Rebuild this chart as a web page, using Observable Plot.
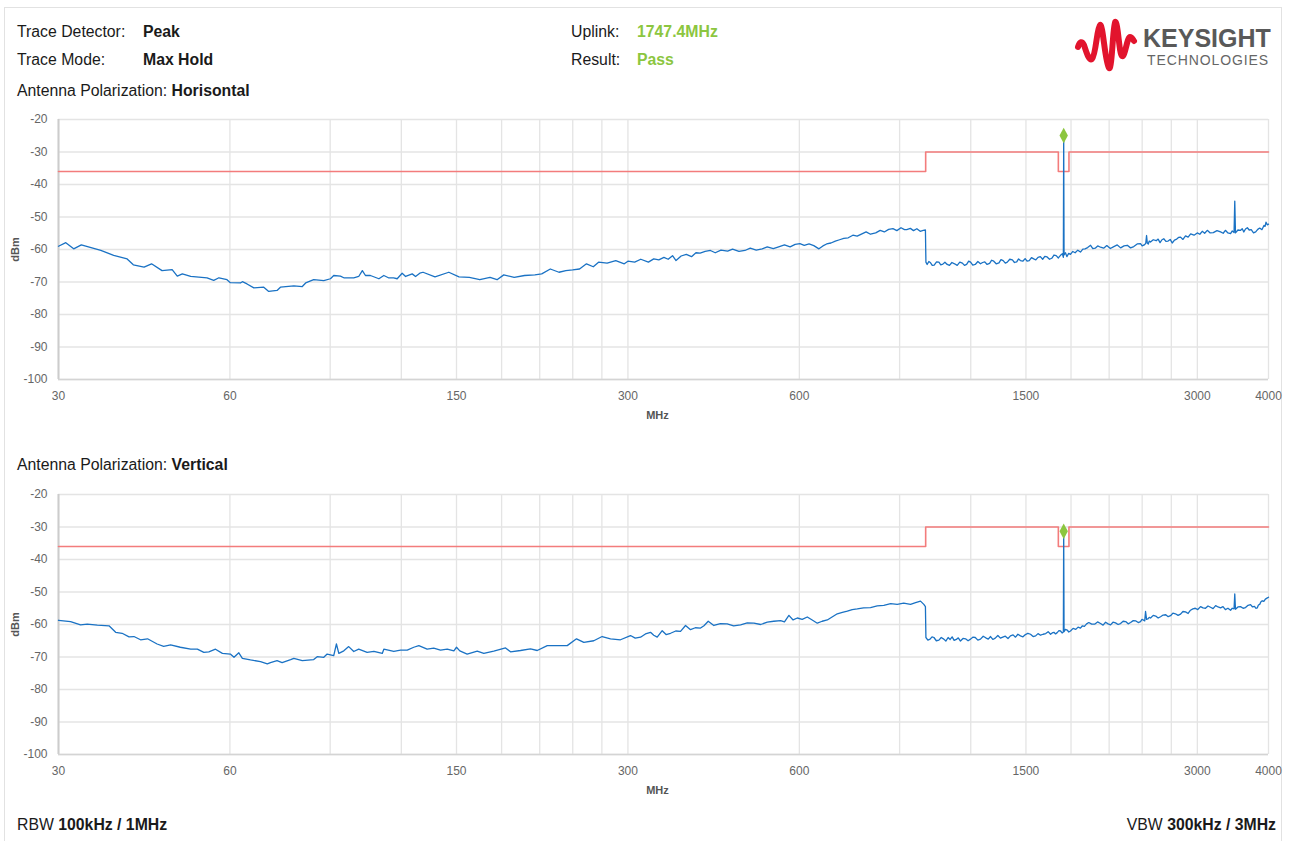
<!DOCTYPE html>
<html>
<head>
<meta charset="utf-8">
<script src="https://cdn.jsdelivr.net/npm/d3@7"></script>
<script src="https://cdn.jsdelivr.net/npm/@observablehq/plot@0.6"></script>
<style>
  html, body { margin: 0; padding: 0; background: #fff; }
  body { font-family: "Liberation Sans", Arial, sans-serif; color: #1a1a1a; }
  #page { position: relative; width: 1290px; height: 841px; overflow: hidden; }
  .frame { position: absolute; left: 4px; top: 7px; width: 1278px; height: 860px; border: 1px solid #e2e2e2; box-sizing: border-box; }
  .t { position: absolute; font-size: 15.8px; line-height: 18px; white-space: nowrap; }
  .b { font-weight: bold; }
  .ok { color: #8cc63f; font-weight: bold; }
  .chart { position: absolute; left: 0; }
  .chart svg g[aria-label="y-axis label"] text { font-weight: bold; font-size: 11px; fill: #555; }
  .chart svg g[aria-label="y-axis tick label"] text { fill: #666; }
</style>
</head>
<body>
<div id="page">
  <div class="frame"></div>

  <div class="t" style="left:17px;top:23px">Trace Detector:</div>
  <div class="t b" style="left:143px;top:23px">Peak</div>
  <div class="t" style="left:17px;top:51px">Trace Mode:</div>
  <div class="t b" style="left:143px;top:51px">Max Hold</div>

  <div class="t" style="left:571px;top:23px">Uplink:</div>
  <div class="t ok" id="uplink" style="left:637px;top:23px"></div>
  <div class="t" style="left:571px;top:51px">Result:</div>
  <div class="t ok" id="result" style="left:637px;top:51px"></div>

  <svg style="position:absolute;left:1070px;top:14px" width="210" height="64" viewBox="0 0 210 64">
    <path d="M8,33 C10,27 12,27 14,31 C17,40 19,47 22,45 C26,41 27,13 30,11 C33,9 35,49 39,54 C42,58 43,10 45,8 C48,6 49,40 52,42 C55,44 57,23 60,23 C62,23 63,26 64,27"
          fill="none" stroke="#e2142d" stroke-width="6" stroke-linecap="round" stroke-linejoin="round"/>
    <text x="73" y="33" font-family="Liberation Sans, Arial, sans-serif" font-weight="bold" font-size="25" fill="#595959">KEYSIGHT</text>
    <text x="77" y="51" font-family="Liberation Sans, Arial, sans-serif" font-size="14" letter-spacing="0.9" fill="#666">TECHNOLOGIES</text>
  </svg>

  <div class="t" style="left:17px;top:82px">Antenna Polarization: <span class="b">Horisontal</span></div>
  <div class="chart" id="chartH" style="top:100px"></div>

  <div class="t" style="left:17px;top:456px">Antenna Polarization: <span class="b">Vertical</span></div>
  <div class="chart" id="chartV" style="top:475px"></div>

  <div class="t" style="left:17px;top:816px">RBW <span class="b">100kHz / 1MHz</span></div>
  <div class="t" style="right:14px;top:816px">VBW <span class="b">300kHz / 3MHz</span></div>
</div>

<script>
// Frequency axis labels (MHz) and grid positions
const xTickLabels = [30, 60, 150, 300, 600, 1500, 3000, 4000];
const xGridValues = [30, 60, 90, 120, 150, 180, 210, 240, 270, 300, 600, 900, 1200, 1500, 1800, 2100, 2400, 2700, 3000, 4000];
const yTickValues = [-20, -30, -40, -50, -60, -70, -80, -90, -100];

// Emission limit mask (MHz, dBm), stepped
const limitFreq  = [30, 1000, 1710, 1785, 4000];
const limitLevel = [-36, -30, -36, -30, -30];

// Uplink carrier marker
const uplinkFreq = 1747.4;
const uplinkPeakH = -24.9;
const uplinkPeakV = -31.3;
const resultText = "Pass";

// Max-hold trace, horizontal polarization: [MHz, dBm]
const traceH = [
  [30, -59.0], [30.9, -57.9], [31.9, -59.8], [32.9, -58.6], [35.6, -60.3], [37.5, -61.8], [39.6, -62.9],
  [40.6, -64.7], [42.4, -65.4], [43.7, -64.4], [45.6, -66.5], [47.5, -66.2], [48.5, -68.2], [49.5, -67.5],
  [51.2, -68.3], [54.7, -68.7], [56.2, -69.5], [57.4, -68.7], [59.3, -69.3], [60.1, -70.2], [62.6, -70.3],
  [63.1, -69.9], [64.3, -70.6], [66.1, -71.8], [68.8, -71.6], [70.2, -72.9], [72.6, -72.6], [73.6, -71.6],
  [77.7, -71.2], [80.4, -71.4], [81.5, -70.3], [84.2, -69.3], [87.7, -69.6], [90.1, -69.0], [91.3, -68.0],
  [93.8, -68.2], [95.1, -68.7], [99.0, -68.7], [101.0, -68.3], [102.5, -66.5], [103.8, -68.0], [105.9, -68.0],
  [109.6, -69.0], [111.8, -68.0], [113.9, -68.7], [116.3, -68.7], [118.0, -69.0], [120.4, -67.3], [122.1, -68.3],
  [125.4, -67.5], [127.1, -68.3], [129.3, -67.3], [131.0, -67.0], [137.5, -68.4], [145.4, -67.0], [151.5, -68.4],
  [158.0, -68.6], [164.8, -69.3], [171.8, -68.6], [176.7, -69.3], [181.6, -67.8], [189.4, -68.6], [197.5, -68.0],
  [205.9, -67.8], [211.7, -67.5], [219.2, -66.0], [227.0, -67.0], [233.4, -66.5], [239.9, -66.3], [246.7, -66.0],
  [253.7, -64.4], [260.8, -65.3], [266.4, -63.9], [275.8, -64.2], [285.6, -63.4], [295.6, -64.4], [300, -63.6],
  [308.3, -63.9], [316, -63.0], [325.9, -63.9], [333, -62.9], [339.9, -63.2], [347, -62.4], [353, -63.0],
  [359.3, -61.9], [364.4, -63.4], [372, -62.0], [379.9, -61.5], [388, -62.2], [395, -61.0], [401.7, -61.1],
  [410, -60.6], [418.8, -60.3], [427, -61.0], [437, -60.2], [449.0, -60.5], [458, -59.9], [470, -60.6],
  [481.5, -60.3], [492, -59.6], [504, -60.2], [516.3, -59.8], [527, -59.2], [540, -59.7], [553.5, -59.1],
  [565, -58.6], [578, -59.2], [590, -58.4], [601.4, -58.2], [612, -58.7], [624, -58.3], [636.1, -58.8],
  [649.5, -59.8], [660, -58.9], [670, -58.3], [681.8, -58.0], [694, -57.4], [706, -57.0], [718, -56.6],
  [731.2, -56.4], [745, -55.6], [758, -55.9], [772.7, -55.2], [786, -54.6], [800, -55.3], [817.1, -54.9],
  [832, -54.1], [846, -54.6], [861, -53.8], [876.1, -53.6], [890, -54.2], [905, -53.3], [918, -53.9],
  [926.3, -53.9], [940, -53.5], [952, -54.2], [965, -53.6], [978, -54.4], [990.1, -54.1], [999, -54.0],
  [1001, -63.9], [1006, -64.6], [1013, -63.7], [1020, -64.1], [1027, -64.9], [1035, -64.8], [1045, -63.8],
  [1055, -63.9], [1063, -64.7], [1072, -64.5], [1081, -63.9], [1091, -64.6], [1101, -64.9], [1112, -64.0],
  [1124, -64.4], [1136, -64.9], [1148, -63.9], [1160, -64.2], [1170, -64.9], [1180, -64.6], [1190, -63.6],
  [1199, -63.9], [1210, -64.8], [1222, -64.6], [1235, -63.7], [1248, -64.4], [1259, -64.0], [1270, -63.8],
  [1282, -64.6], [1295, -64.3], [1306, -63.3], [1317, -63.6], [1330, -64.4], [1345, -64.1], [1356, -63.1],
  [1368, -63.4], [1380, -64.2], [1391, -63.9], [1405, -63.0], [1420, -63.2], [1432, -64.0], [1445, -63.8],
  [1456, -62.9], [1467, -63.4], [1481, -63.6], [1495, -62.8], [1507, -63.6], [1520, -63.4], [1534, -62.5],
  [1548, -62.9], [1561, -63.2], [1575, -62.4], [1590, -62.2], [1605, -63.0], [1619, -62.1], [1634, -62.3],
  [1650, -63.0], [1665, -62.7], [1680, -61.7], [1695, -61.9], [1710, -62.6], [1725, -61.8], [1738, -61.3],
  [1745, -62.4], [1747.4, -24.9], [1750, -61.7], [1760, -61.0], [1770, -62.2], [1783, -61.2], [1796, -61.5],
  [1813, -60.6], [1830, -61.0], [1850, -60.2], [1870, -60.8], [1888, -59.9], [1905, -59.8], [1925, -59.4],
  [1948, -58.7], [1966, -59.7], [1985, -59.6], [2005, -58.9], [2028, -59.3], [2054, -59.6], [2080, -58.8],
  [2110, -59.7], [2140, -59.1], [2170, -58.6], [2200, -59.5], [2230, -58.9], [2260, -58.7], [2290, -59.5],
  [2320, -59.1], [2352, -58.3], [2384, -58.2], [2400, -58.9], [2420, -58.6], [2435, -58.1], [2443, -55.7],
  [2450, -58.0], [2460, -58.3], [2470, -57.4], [2482, -57.7], [2510, -57.0], [2540, -57.3], [2560, -56.8],
  [2580, -57.9], [2600, -57.0], [2619, -56.7], [2642, -57.5], [2665, -57.4], [2688, -56.9], [2710, -58.0],
  [2735, -57.1], [2760, -56.8], [2780, -56.3], [2803, -56.2], [2830, -56.9], [2860, -55.8], [2890, -56.2],
  [2920, -55.2], [2960, -55.6], [2999, -54.9], [3030, -55.3], [3060, -54.4], [3090, -55.0], [3123, -54.1],
  [3160, -54.9], [3200, -54.8], [3248, -54.2], [3295, -54.6], [3330, -55.0], [3360, -54.1], [3395, -54.9],
  [3431, -55.1], [3455, -54.3], [3480, -54.8], [3490, -45.1], [3500, -54.9], [3535, -54.0], [3573, -54.1],
  [3597, -53.6], [3620, -54.6], [3645, -53.7], [3672, -53.3], [3700, -54.0], [3730, -53.9], [3765, -54.9],
  [3798, -54.6], [3830, -53.8], [3860, -53.4], [3895, -53.9], [3927, -52.6], [3945, -52.9], [3960, -51.6],
  [3980, -52.4], [4000, -52.2]
];

// Max-hold trace, vertical polarization: [MHz, dBm]
const traceV = [
  [30, -58.7], [31.5, -59.1], [32.8, -60.1], [33.7, -59.9], [35.1, -60.2], [36.8, -60.4], [37.8, -62.4],
  [38.8, -62.7], [39.9, -63.8], [40.7, -63.7], [41.8, -64.7], [43.0, -64.4], [44.7, -66.0], [45.9, -66.7],
  [47.2, -66.3], [49.1, -67.0], [51.2, -67.6], [52.6, -67.6], [54.0, -68.6], [55.1, -68.4], [56.6, -67.6],
  [58.2, -68.9], [60.1, -69.1], [61.0, -70.1], [62.2, -68.7], [63.1, -70.4], [65.2, -70.9], [67.9, -71.4],
  [69.8, -72.1], [70.7, -71.7], [72.6, -71.1], [74.1, -71.7], [76.7, -70.8], [77.7, -70.4], [80.4, -71.1],
  [84.2, -70.8], [85.4, -69.9], [87.7, -70.1], [88.9, -69.1], [91.3, -69.6], [92.3, -66.0], [93.2, -68.9],
  [95.1, -68.1], [97.0, -66.8], [99.0, -68.3], [101.0, -67.6], [104.5, -68.6], [107.4, -68.3], [111.1, -68.9],
  [111.8, -67.6], [116.4, -68.3], [119.6, -67.9], [122.9, -67.9], [126.2, -67.0], [128.8, -66.5], [133.2, -67.6],
  [136.8, -67.3], [140.6, -67.9], [144.5, -67.6], [148.4, -68.1], [150.0, -67.0], [152.0, -68.1], [156.6, -69.1],
  [163.1, -68.2], [167.5, -68.9], [174.4, -68.2], [182.9, -67.2], [186.6, -68.4], [194.3, -68.0], [202.3, -67.5],
  [207.9, -68.0], [216.5, -66.5], [225.4, -66.5], [234.7, -66.5], [243.7, -64.4], [251.0, -65.5], [261.3, -65.0],
  [270.3, -63.7], [279.6, -64.4], [291.1, -64.7], [303.1, -63.4], [309, -64.2], [315.7, -63.9], [322, -62.9],
  [328.7, -62.4], [333, -63.3], [337.7, -63.9], [344.6, -61.9], [350, -63.1], [356.4, -62.7], [364, -62.0],
  [371.1, -62.1], [378.7, -60.3], [386.4, -61.6], [394, -61.0], [402.4, -61.1], [408, -60.4], [415.1, -59.0],
  [424.6, -60.3], [436, -59.7], [448.2, -59.8], [460, -60.4], [473.1, -60.1], [486, -59.5], [499.3, -59.6],
  [513, -60.0], [527.1, -59.3], [541, -59.0], [556.2, -58.8], [565, -59.2], [575.2, -57.2], [585, -58.6],
  [595.1, -58.0], [607, -58.4], [619.6, -57.7], [632, -58.6], [645.2, -59.6], [658, -59.0], [671.8, -58.6],
  [686, -57.6], [699.5, -56.7], [714, -56.3], [728.4, -55.9], [743, -55.4], [758.4, -55.2], [778, -54.9],
  [800.1, -54.8], [822, -54.3], [844.3, -54.1], [868, -53.6], [891.3, -53.8], [915, -53.4], [940.6, -53.8],
  [960, -53.3], [979.4, -52.8], [992.6, -53.8], [999, -54.5],
  [1001, -64.0], [1009, -64.8], [1018, -64.5], [1026, -63.8], [1034, -64.0], [1044, -65.0], [1055, -64.8],
  [1065, -64.0], [1076, -64.5], [1085, -65.1], [1095, -64.0], [1104, -64.6], [1113, -63.8], [1122, -64.9],
  [1132, -64.6], [1141, -64.1], [1151, -65.1], [1163, -64.3], [1175, -64.4], [1187, -65.0], [1199, -64.5],
  [1210, -63.9], [1222, -64.0], [1235, -64.8], [1248, -64.5], [1262, -63.6], [1275, -64.1], [1288, -64.5],
  [1300, -63.7], [1312, -64.6], [1325, -64.2], [1339, -63.4], [1353, -64.2], [1366, -63.9], [1380, -63.6],
  [1395, -64.3], [1409, -63.5], [1424, -63.2], [1438, -63.9], [1452, -63.0], [1467, -63.5], [1482, -63.8],
  [1497, -63.1], [1512, -62.7], [1528, -63.0], [1544, -63.7], [1560, -63.5], [1575, -62.8], [1591, -63.3],
  [1608, -63.0], [1625, -62.8], [1641, -62.2], [1657, -63.0], [1668, -62.6], [1680, -62.4], [1691, -62.9],
  [1702, -62.5], [1714, -61.9], [1725, -62.0], [1736, -62.6], [1745, -62.3], [1747.4, -31.3], [1750, -62.2],
  [1760, -61.5], [1772, -61.7], [1784, -62.3], [1796, -62.0], [1815, -61.2], [1835, -61.5], [1852, -60.8],
  [1870, -61.1], [1885, -60.4], [1900, -60.6], [1917, -59.8], [1934, -59.4], [1957, -59.9], [1980, -59.9],
  [2004, -59.2], [2028, -59.7], [2049, -60.2], [2070, -59.3], [2091, -59.8], [2112, -60.1], [2133, -59.3],
  [2155, -59.5], [2177, -60.0], [2199, -59.7], [2222, -59.0], [2245, -59.1], [2268, -59.8], [2290, -59.4],
  [2315, -58.8], [2340, -58.9], [2362, -59.4], [2384, -59.1], [2398, -58.4], [2410, -58.6], [2425, -58.9],
  [2433, -56.0], [2443, -58.4], [2455, -58.3], [2470, -57.8], [2483, -58.0], [2510, -57.2], [2535, -57.4],
  [2560, -58.0], [2585, -57.6], [2612, -57.1], [2640, -57.0], [2666, -57.6], [2692, -57.3], [2718, -56.5],
  [2745, -56.7], [2775, -57.2], [2803, -56.8], [2830, -56.0], [2860, -56.1], [2890, -56.6], [2918, -55.6],
  [2946, -55.2], [2975, -55.0], [3005, -55.4], [3039, -54.5], [3070, -54.9], [3100, -55.0], [3132, -54.3],
  [3164, -54.7], [3197, -55.1], [3230, -54.2], [3262, -54.6], [3295, -54.9], [3328, -54.5], [3360, -55.4],
  [3395, -55.0], [3431, -55.6], [3455, -55.0], [3480, -55.2], [3490, -50.6], [3500, -55.3], [3535, -54.6],
  [3572, -54.5], [3610, -55.0], [3645, -54.8], [3683, -54.1], [3720, -53.9], [3750, -54.6], [3780, -54.4],
  [3800, -55.0], [3822, -54.9], [3840, -54.0], [3860, -53.8], [3880, -53.0], [3900, -52.7], [3925, -52.9],
  [3950, -52.2], [3975, -51.9], [4000, -51.6]
];

// Tall diamond used for the uplink marker
const tallDiamond = {
  draw(context, size) {
    const r = Math.sqrt(size / Math.PI);
    context.moveTo(0, -r * 1.1);
    context.lineTo(r * 0.6, 0);
    context.lineTo(0, r * 1.1);
    context.lineTo(-r * 0.6, 0);
    context.closePath();
  }
};

const FONT = "Liberation Sans, Arial, sans-serif";

function spectrum(trace, peakLevel) {
  const rows = trace.map(([f, v]) => ({f, v}));
  const mask = limitFreq.map((f, i) => ({f, v: limitLevel[i]}));
  return Plot.plot({
    width: 1290,
    height: 320,
    marginLeft: 58,
    marginRight: 22,
    marginTop: 19,
    marginBottom: 41,
    style: {fontFamily: FONT, fontSize: "12px", color: "#666", background: "transparent", overflow: "visible"},
    x: {type: "log", domain: [30, 4000], axis: null},
    y: {domain: [-100, -20]},
    marks: [
      Plot.ruleY(yTickValues, {stroke: "#e4e4e4", strokeWidth: 1.3}),
      Plot.ruleX(xGridValues, {stroke: "#e4e4e4", strokeWidth: 1.3}),
      Plot.ruleX([30], {stroke: "#cccccc", strokeWidth: 2}),
      Plot.ruleY([-100], {stroke: "#d4d4d4", strokeWidth: 1.6}),
      Plot.axisY({
        ticks: yTickValues, tickSize: 0, tickPadding: 11, tickFormat: d => String(d),
        label: "dBm", labelAnchor: "center", labelArrow: "none", labelOffset: 47
      }),
      // frequency tick labels and axis title under the frame
      Plot.text(xTickLabels, {x: d => d, frameAnchor: "bottom", dy: 20, text: d => String(d), fill: "#666", fontSize: 12}),
      Plot.text(["MHz"], {frameAnchor: "bottom", dx: -6, dy: 39, fill: "#555", fontSize: 11, fontWeight: "bold"}),
      Plot.line(mask, {x: "f", y: "v", curve: "step-after", stroke: "#f37c7c", strokeWidth: 1.6}),
      Plot.line(rows, {x: "f", y: "v", stroke: "#1a72c4", strokeWidth: 1.3}),
      Plot.dot([{f: uplinkFreq, v: peakLevel}], {x: "f", y: "v", symbol: tallDiamond, r: 7, fill: "#8cc63f", stroke: "none"})
    ]
  });
}

document.getElementById("uplink").textContent = `${uplinkFreq}MHz`;
document.getElementById("result").textContent = resultText;
document.getElementById("chartH").append(spectrum(traceH, uplinkPeakH));
document.getElementById("chartV").append(spectrum(traceV, uplinkPeakV));
</script>
</body>
</html>
